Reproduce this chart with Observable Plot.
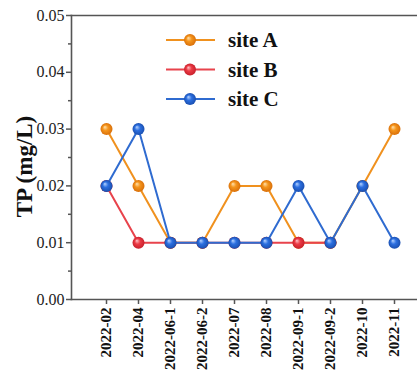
<!DOCTYPE html>
<html>
<head>
<meta charset="utf-8">
<script src="https://cdn.jsdelivr.net/npm/d3@7"></script>
<script src="https://cdn.jsdelivr.net/npm/@observablehq/plot@0.6"></script>
</head>
<body style="margin:0;padding:0;background:#fff">
<div id="chart"></div>
<script>
const months = ["2022-02","2022-04","2022-06-1","2022-06-2","2022-07","2022-08","2022-09-1","2022-09-2","2022-10","2022-11"];
const siteA = [0.03, 0.02, 0.01, 0.01, 0.02, 0.02, 0.01, 0.01, 0.02, 0.03];
const siteB = [0.02, 0.01, 0.01, 0.01, 0.01, 0.01, 0.01, 0.01, null, null];
const siteC = [0.02, 0.03, 0.01, 0.01, 0.01, 0.01, 0.02, 0.01, 0.02, 0.01];
const seriesNames = ["site A", "site B", "site C"];
const lineColors = ["#f0911e", "#e8434c", "#2f6bd0"];
const gradStops = [["#ffe2b0", "#f5951c", "#d9700a"], ["#ffc4c8", "#ec3b45", "#c8202c"], ["#b8d4ff", "#2c6fe0", "#1a4fb0"]];
const dotFills = ["url(#gA)", "url(#gB)", "url(#gC)"];
const yMajor = [0, 0.01, 0.02, 0.03, 0.04, 0.05];
const yMinor = [0.005, 0.015, 0.025, 0.035, 0.045];

const allSeries = [siteA, siteB, siteC];
const rows = allSeries.map((vals, s) => months.map((m, i) => ({month: m, value: vals[i], series: seriesNames[s]})));

const font = "Liberation Serif";

const seriesMarks = rows.flatMap((data, s) => [
  Plot.line(data, {x: "month", y: "value", stroke: lineColors[s], strokeWidth: 2}),
  Plot.dot(data.filter(d => d.value != null), {x: "month", y: "value", r: 6, fill: dotFills[s], stroke: "none"})
]);

const chart = Plot.plot({
  width: 417,
  height: 383,
  marginLeft: 71,
  marginRight: 0,
  marginTop: 15,
  marginBottom: 84,
  style: {fontFamily: font},
  x: {type: "point", domain: months, range: [104, 395], padding: 0},
  y: {domain: [0, 0.05]},
  marks: [
    Plot.frame({anchor: "left", stroke: "#555", strokeWidth: 1.6}),
    Plot.frame({anchor: "top", stroke: "#555", strokeWidth: 1.6}),
    Plot.frame({anchor: "bottom", stroke: "#555", strokeWidth: 1.6}),
    Plot.axisY(yMajor, {tickSize: 5, tickPadding: 2, tickFormat: d3.format(".2f"), fontSize: 16, stroke: "#555", strokeWidth: 1.5, label: null, fill: "#222"}),
    Plot.axisY(yMinor, {tickSize: 3, tickFormat: () => "", stroke: "#555", strokeWidth: 1.5, label: null}),
    Plot.axisX(months, {tickSize: 5, tickPadding: 3, tickRotate: -90, fontSize: 15, fontWeight: "bold", stroke: "#555", strokeWidth: 1.5, label: null, fill: "#111"}),
    Plot.text(["TP (mg/L)"], {frameAnchor: "left", textAnchor: "middle", rotate: -90, dx: -47, dy: 9, fontSize: 23, fontWeight: "bold", fill: "#111"}),
    ...seriesMarks
  ]
});
document.getElementById("chart").appendChild(chart);

const svg = d3.select(chart);
// gradients for the spherical markers
const defs = svg.insert("defs", ":first-child");
["gA", "gB", "gC"].forEach((id, i) => {
  const g = defs.append("radialGradient").attr("id", id)
    .attr("cx", "50%").attr("cy", "50%").attr("r", "50%").attr("fx", "35%").attr("fy", "32%");
  g.append("stop").attr("offset", "0%").attr("stop-color", gradStops[i][0]);
  g.append("stop").attr("offset", "45%").attr("stop-color", gradStops[i][1]);
  g.append("stop").attr("offset", "100%").attr("stop-color", gradStops[i][2]);
});

// legend
const lg = svg.append("g").attr("text-anchor", "start");
seriesNames.forEach((name, i) => {
  const y = 40 + i * 29.5;
  lg.append("line").attr("x1", 166).attr("x2", 215).attr("y1", y).attr("y2", y)
    .attr("stroke", lineColors[i]).attr("stroke-width", 2);
  lg.append("circle").attr("cx", 190).attr("cy", y).attr("r", 6).attr("fill", dotFills[i]);
  lg.append("text").attr("x", 228).attr("y", y).attr("dy", "0.35em").attr("text-anchor", "start")
    .attr("font-size", 21).attr("font-weight", "bold").attr("fill", "#111").text(name);
});

svg.selectAll("text, tspan, g").attr("font-family", font);
</script>
</body>
</html>
